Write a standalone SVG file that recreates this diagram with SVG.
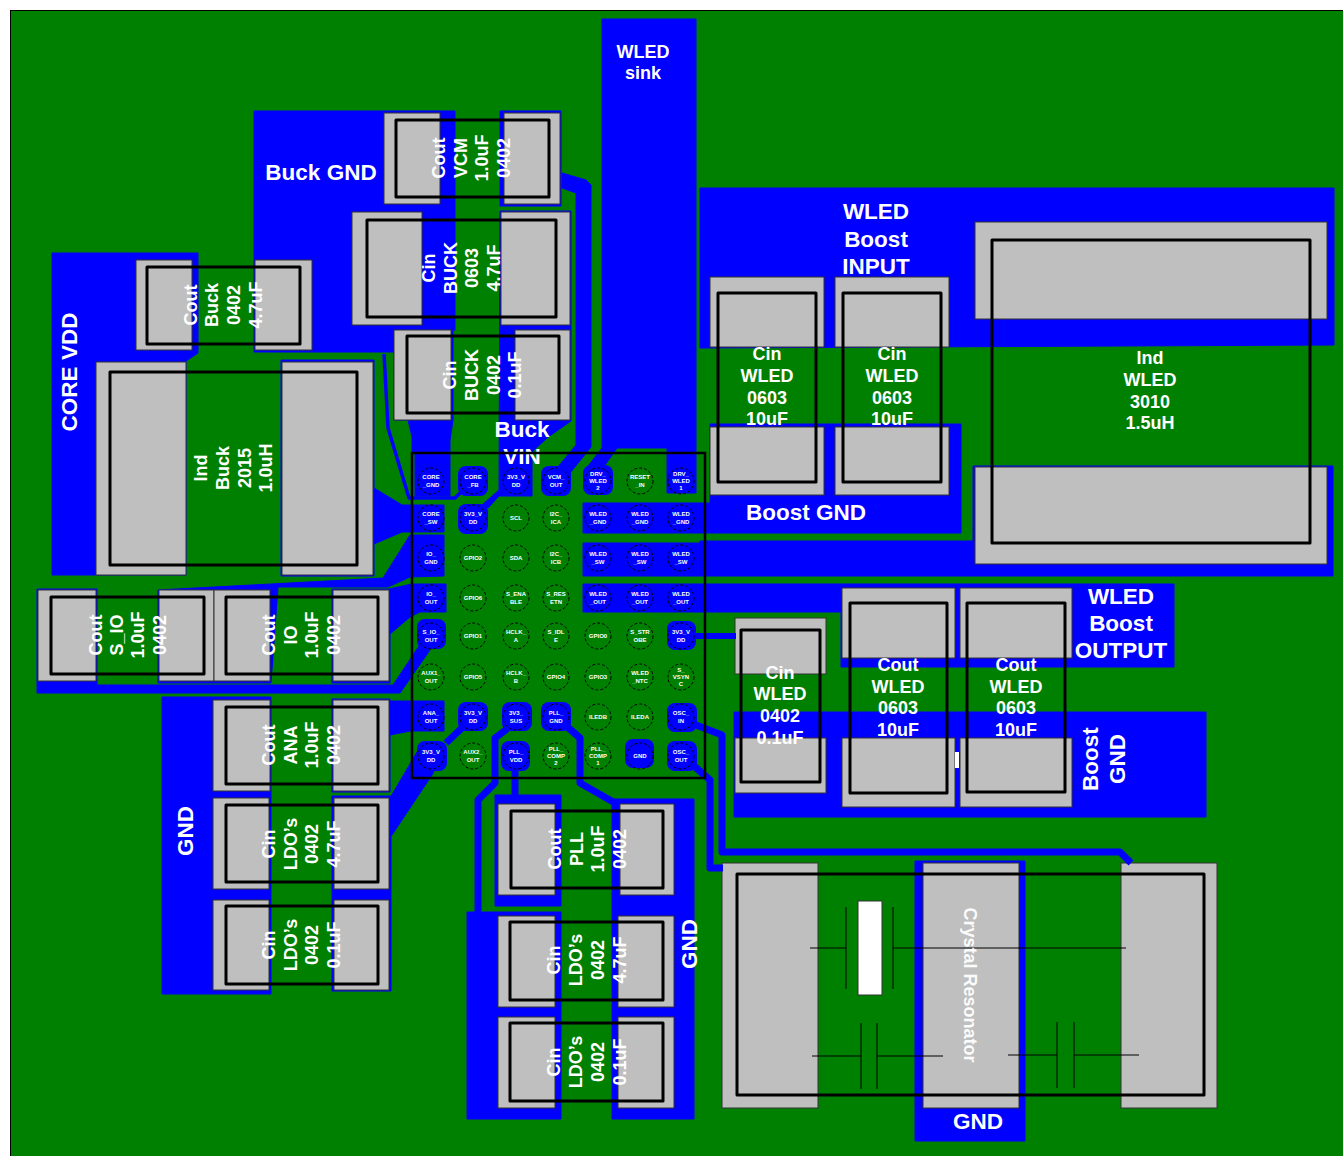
<svg xmlns="http://www.w3.org/2000/svg" width="1343" height="1156" viewBox="0 0 1343 1156">
<style>
.cu{fill:#0000ff;stroke:#0000ff;stroke-width:1;stroke-linejoin:round}
.tr{fill:none;stroke:#0000ff;stroke-linejoin:round}
.pd{fill:#bfbfbf;stroke:#333;stroke-width:1}
.ol{fill:none;stroke:#000;stroke-width:3;stroke-linejoin:round}
.t{font-family:"Liberation Sans",Arial,sans-serif;font-weight:700;fill:#fff;font-size:18px;text-anchor:middle}
.b{font-size:22.5px}
.pin{fill:none;stroke:#000;stroke-width:1;stroke-dasharray:3 2}
.pt{font-family:"Liberation Sans",Arial,sans-serif;font-weight:700;fill:#fff;font-size:6px;text-anchor:middle}
.s{stroke:#000;stroke-width:1;fill:none}
</style>
<rect x="10.5" y="10.5" width="1340" height="1150" fill="#008000" stroke="#000" stroke-width="1"/>
<g id="copper">
<path class="cu" d="M602 19H696V493H667V448H617L603 468L585 470L602 448Z"/>
<path class="cu" d="M254 111H455V330H453V420L450 440V496H415V453H412V437L408 420H394V352H254Z"/>
<rect class="cu" x="500" y="111" width="61" height="95"/>
<path class="cu" d="M500 211H571V421L548 437L532 452V496H499V490L482 505L488 508L499 496L500 211Z"/>
<path class="cu" d="M52 253H198V353L186 361V575H52Z"/>
<path class="cu" d="M281 360H374V488L402 505H444V532H402L374 544V576H281Z"/>
<path class="cu" d="M700 188H1334V345L700 348Z"/>
<path class="cu" d="M710 424H961V533H583V503H710Z"/>
<path class="cu" d="M583 543H700V541H973V466H1333V576H583Z"/>
<path class="cu" d="M583 584H1174V667H841V612H583Z"/>
<rect class="cu" x="734" y="712" width="472" height="105"/>
<path class="cu" d="M444 535V576L410 577L388 587H278L271 683H158V590L383 578L410 535Z"/>
<path class="cu" d="M332 589H389L412 584H446V612H420L410 617L390 634V683H332Z"/>
<path class="cu" d="M37 589H97V685H393L423 640L430 650L400 693H37Z"/>
<path class="cu" d="M332 699H390V701H444V731H410L390 735V792H332Z"/>
<rect class="cu" x="162" y="697" width="109" height="297"/>
<rect class="cu" x="332" y="796" width="59" height="195"/>
<rect class="cu" x="495" y="795" width="66" height="111"/>
<rect class="cu" x="467" y="912" width="94" height="207"/>
<rect class="cu" x="612" y="799" width="82" height="320"/>
<rect class="cu" x="915" y="861" width="110" height="280"/>
<path class="cu" d="M390 798L417 752L421 747L440 760L432 775L392 835H390Z"/>
</g>
<g id="cout-vcm"><rect class="pd" x="384" y="113" width="56" height="91"/><rect class="pd" x="504" y="113" width="56" height="91"/><rect class="ol" x="396" y="120" width="153" height="77"/>
<text class="t" transform="translate(445,158) rotate(-90)">Cout</text><text class="t" transform="translate(467,158) rotate(-90)">VCM</text><text class="t" transform="translate(488,158) rotate(-90)">1.0uF</text><text class="t" transform="translate(510,158) rotate(-90)">0402</text></g>
<g id="cin-buck-0603"><rect class="pd" x="352" y="212" width="70" height="113"/><rect class="pd" x="501" y="212" width="69" height="113"/><rect class="ol" x="367" y="220" width="189" height="97"/>
<text class="t" transform="translate(435,268) rotate(-90)">Cin</text><text class="t" transform="translate(457,268) rotate(-90)">BUCK</text><text class="t" transform="translate(478,268) rotate(-90)">0603</text><text class="t" transform="translate(500,268) rotate(-90)">4.7uF</text></g>
<g id="cin-buck-0402"><rect class="pd" x="394" y="330" width="57" height="90"/><rect class="pd" x="515" y="330" width="55" height="90"/><rect class="ol" x="407" y="336" width="152" height="77"/>
<text class="t" transform="translate(456,375) rotate(-90)">Cin</text><text class="t" transform="translate(478,375) rotate(-90)">BUCK</text><text class="t" transform="translate(500,375) rotate(-90)">0402</text><text class="t" transform="translate(521,375) rotate(-90)">0.1uF</text></g>
<g id="cout-buck"><rect class="pd" x="136" y="260" width="56" height="90"/><rect class="pd" x="255" y="260" width="57" height="90"/><rect class="ol" x="147" y="267" width="153" height="77"/>
<text class="t" transform="translate(197,305) rotate(-90)">Cout</text><text class="t" transform="translate(218,305) rotate(-90)">Buck</text><text class="t" transform="translate(240,305) rotate(-90)">0402</text><text class="t" transform="translate(262,305) rotate(-90)">4.7uF</text></g>
<g id="ind-buck"><rect class="pd" x="96" y="362" width="90" height="213"/><rect class="pd" x="282" y="362" width="91" height="213"/><rect class="ol" x="110" y="372" width="247" height="193"/>
<text class="t" transform="translate(207,468) rotate(-90)">Ind</text><text class="t" transform="translate(229,468) rotate(-90)">Buck</text><text class="t" transform="translate(251,468) rotate(-90)">2015</text><text class="t" transform="translate(272,468) rotate(-90)">1.0uH</text></g>
<g id="cout-s-io"><rect class="pd" x="38" y="590" width="58" height="91"/><rect class="pd" x="159" y="590" width="55" height="91"/><rect class="ol" x="51" y="597" width="153" height="77"/>
<text class="t" transform="translate(102,635) rotate(-90)">Cout</text><text class="t" transform="translate(123,635) rotate(-90)">S_IO</text><text class="t" transform="translate(144,635) rotate(-90)">1.0uF</text><text class="t" transform="translate(166,635) rotate(-90)">0402</text></g>
<g id="cout-io"><rect class="pd" x="214" y="590" width="56" height="91"/><rect class="pd" x="333" y="590" width="56" height="91"/><rect class="ol" x="226" y="597" width="152" height="77"/>
<text class="t" transform="translate(275,635) rotate(-90)">Cout</text><text class="t" transform="translate(297,635) rotate(-90)">IO</text><text class="t" transform="translate(318,635) rotate(-90)">1.0uF</text><text class="t" transform="translate(340,635) rotate(-90)">0402</text></g>
<g id="cout-ana"><rect class="pd" x="213" y="700" width="57" height="91"/><rect class="pd" x="333" y="700" width="56" height="91"/><rect class="ol" x="226" y="707" width="152" height="77"/>
<text class="t" transform="translate(275,745) rotate(-90)">Cout</text><text class="t" transform="translate(297,745) rotate(-90)">ANA</text><text class="t" transform="translate(318,745) rotate(-90)">1.0uF</text><text class="t" transform="translate(340,745) rotate(-90)">0402</text></g>
<g id="cin-ldo-47-left"><rect class="pd" x="213" y="798" width="56" height="91"/><rect class="pd" x="334" y="798" width="55" height="91"/><rect class="ol" x="226" y="805" width="152" height="77"/>
<text class="t" transform="translate(275,844) rotate(-90)">Cin</text><text class="t" transform="translate(297,844) rotate(-90)">LDO’s</text><text class="t" transform="translate(318,844) rotate(-90)">0402</text><text class="t" transform="translate(340,844) rotate(-90)">4.7uF</text></g>
<g id="cin-ldo-01-left"><rect class="pd" x="213" y="900" width="56" height="90"/><rect class="pd" x="334" y="900" width="55" height="90"/><rect class="ol" x="226" y="906" width="152" height="78"/>
<text class="t" transform="translate(275,945) rotate(-90)">Cin</text><text class="t" transform="translate(297,945) rotate(-90)">LDO’s</text><text class="t" transform="translate(318,945) rotate(-90)">0402</text><text class="t" transform="translate(340,945) rotate(-90)">0.1uF</text></g>
<g id="cout-pll"><rect class="pd" x="498" y="804" width="57" height="91"/><rect class="pd" x="620" y="804" width="54" height="91"/><rect class="ol" x="511" y="811" width="152" height="77"/>
<text class="t" transform="translate(561,849) rotate(-90)">Cout</text><text class="t" transform="translate(583,849) rotate(-90)">PLL</text><text class="t" transform="translate(604,849) rotate(-90)">1.0uF</text><text class="t" transform="translate(626,849) rotate(-90)">0402</text></g>
<g id="cin-ldo-47-right"><rect class="pd" x="498" y="916" width="57" height="91"/><rect class="pd" x="618" y="916" width="56" height="91"/><rect class="ol" x="510" y="922" width="153" height="78"/>
<text class="t" transform="translate(560,960) rotate(-90)">Cin</text><text class="t" transform="translate(582,960) rotate(-90)">LDO’s</text><text class="t" transform="translate(604,960) rotate(-90)">0402</text><text class="t" transform="translate(626,960) rotate(-90)">4.7uF</text></g>
<g id="cin-ldo-01-right"><rect class="pd" x="498" y="1017" width="57" height="91"/><rect class="pd" x="618" y="1017" width="56" height="91"/><rect class="ol" x="510" y="1023" width="153" height="78"/>
<text class="t" transform="translate(560,1062) rotate(-90)">Cin</text><text class="t" transform="translate(582,1062) rotate(-90)">LDO’s</text><text class="t" transform="translate(604,1062) rotate(-90)">0402</text><text class="t" transform="translate(626,1062) rotate(-90)">0.1uF</text></g>
<g id="cin-wled-1"><rect class="pd" x="710" y="277" width="114" height="70"/><rect class="pd" x="710" y="427" width="114" height="68"/><rect class="ol" x="718" y="293" width="98" height="189"/>
<text class="t" x="767" y="360">Cin</text><text class="t" x="767" y="382">WLED</text><text class="t" x="767" y="404">0603</text><text class="t" x="767" y="425">10uF</text></g>
<g id="cin-wled-2"><rect class="pd" x="835" y="277" width="114" height="70"/><rect class="pd" x="835" y="427" width="114" height="68"/><rect class="ol" x="843" y="293" width="98" height="189"/>
<text class="t" x="892" y="360">Cin</text><text class="t" x="892" y="382">WLED</text><text class="t" x="892" y="404">0603</text><text class="t" x="892" y="425">10uF</text></g>
<g id="ind-wled"><rect class="pd" x="975" y="222" width="352" height="97"/><rect class="pd" x="975" y="467" width="352" height="97"/><rect class="ol" x="992" y="240" width="318" height="303"/>
<text class="t" x="1150" y="364">Ind</text><text class="t" x="1150" y="386">WLED</text><text class="t" x="1150" y="408">3010</text><text class="t" x="1150" y="429">1.5uH</text></g>
<g id="cin-wled-0402"><rect class="pd" x="735" y="618" width="91" height="56"/><rect class="pd" x="735" y="738" width="91" height="55"/><rect class="ol" x="741" y="630" width="79" height="152"/>
<text class="t" x="780" y="679">Cin</text><text class="t" x="780" y="700">WLED</text><text class="t" x="780" y="722">0402</text><text class="t" x="780" y="744">0.1uF</text></g>
<g id="cout-wled-1"><rect class="pd" x="842" y="588" width="113" height="70"/><rect class="pd" x="842" y="738" width="113" height="69"/><rect class="ol" x="850" y="603" width="97" height="190"/>
<text class="t" x="898" y="671">Cout</text><text class="t" x="898" y="693">WLED</text><text class="t" x="898" y="714">0603</text><text class="t" x="898" y="736">10uF</text></g>
<g id="cout-wled-2"><rect class="pd" x="960" y="588" width="112" height="70"/><rect class="pd" x="960" y="738" width="112" height="69"/><rect class="ol" x="967" y="603" width="98" height="189"/>
<text class="t" x="1016" y="671">Cout</text><text class="t" x="1016" y="693">WLED</text><text class="t" x="1016" y="714">0603</text><text class="t" x="1016" y="736">10uF</text></g>
<rect x="955" y="752" width="4" height="16" fill="#fff"/>
<g id="crystal"><rect class="pd" x="722" y="863" width="96" height="245"/><rect class="pd" x="923" y="863" width="96" height="245"/><rect class="pd" x="1121" y="863" width="96" height="245"/>
<rect x="858" y="901" width="24" height="94" fill="#fff" stroke="#333"/>
<path class="s" d="M810 948H846M846 907V989M893 907V989M893 948H1126M812 1056H861M861 1023V1089M877 1023V1089M877 1056H943M1008 1055H1057M1057 1022V1088M1074 1022V1088M1074 1055H1139"/>
<rect class="ol" x="737" y="874" width="467" height="221"/>
<text class="t" style="font-size:18px;opacity:.95" transform="translate(964,985) rotate(90)">Crystal Resonator</text></g>
<g id="labels">
<text class="t" x="643" y="58">WLED</text><text class="t" x="643" y="79">sink</text>
<text class="t b" x="321" y="180">Buck GND</text>
<text class="t b" x="876" y="219">WLED</text><text class="t b" x="876" y="247">Boost</text><text class="t b" x="876" y="274">INPUT</text>
<text class="t b" x="806" y="520">Boost GND</text>
<text class="t b" x="1121" y="604">WLED</text><text class="t b" x="1121" y="631">Boost</text><text class="t b" x="1121" y="658">OUTPUT</text>
<text class="t b" transform="translate(1098,759) rotate(-90)">Boost</text><text class="t b" transform="translate(1125,759) rotate(-90)">GND</text>
<text class="t b" transform="translate(77,372) rotate(-90)">CORE VDD</text>
<text class="t b" transform="translate(193,831) rotate(-90)">GND</text>
<text class="t b" transform="translate(697,944) rotate(-90)">GND</text>
<text class="t b" x="978" y="1129">GND</text>
<text class="t b" x="522" y="437">Buck</text><text class="t b" x="522" y="464">VIN</text>
</g>
<g id="pads" fill="#0000ff">
<rect x="458" y="466" width="30" height="30" rx="8"/><rect x="458" y="504" width="30" height="30" rx="8"/><rect x="541" y="466" width="30" height="30" rx="8"/><rect x="583" y="465" width="30" height="30" rx="8"/>
<rect x="417" y="619" width="29" height="30" rx="8"/><rect x="667" y="621" width="29" height="29" rx="8"/>
<rect x="458" y="702" width="30" height="29" rx="8"/><rect x="502" y="702" width="30" height="29" rx="8"/><rect x="541" y="702" width="30" height="29" rx="8"/><rect x="667" y="703" width="30" height="29" rx="8"/>
<rect x="417" y="741" width="30" height="30" rx="8"/><rect x="501" y="741" width="29" height="30" rx="8"/><rect x="625" y="739" width="29" height="29" rx="8"/><rect x="667" y="741" width="30" height="30" rx="8"/>
</g>
<g id="pins">
<g id="p11"><circle class="pin" cx="431" cy="481" r="13"/><text class="pt"><tspan x="431" y="479">CORE</tspan><tspan x="431" y="486.5">_GND</tspan></text></g>
<g id="p12"><circle class="pin" cx="473" cy="481" r="13"/><text class="pt"><tspan x="473" y="479">CORE</tspan><tspan x="473" y="486.5">_FB</tspan></text></g>
<g id="p13"><circle class="pin" cx="516" cy="481" r="13"/><text class="pt"><tspan x="516" y="479">3V3_V</tspan><tspan x="516" y="486.5">DD</tspan></text></g>
<g id="p14"><circle class="pin" cx="556" cy="481" r="13"/><text class="pt"><tspan x="556" y="479">VCM_</tspan><tspan x="556" y="486.5">OUT</tspan></text></g>
<g id="p15"><circle class="pin" cx="598" cy="481" r="13"/><text class="pt"><tspan x="598" y="475.5">DRV_</tspan><tspan x="598" y="482.7">WLED</tspan><tspan x="598" y="490">2</tspan></text></g>
<g id="p16"><circle class="pin" cx="640" cy="481" r="13"/><text class="pt"><tspan x="640" y="479">RESET</tspan><tspan x="640" y="486.5">_IN</tspan></text></g>
<g id="p17"><circle class="pin" cx="681" cy="481" r="13"/><text class="pt"><tspan x="681" y="475.5">DRV_</tspan><tspan x="681" y="482.7">WLED</tspan><tspan x="681" y="490">1</tspan></text></g>
<g id="p21"><circle class="pin" cx="431" cy="518" r="13"/><text class="pt"><tspan x="431" y="516">CORE</tspan><tspan x="431" y="523.5">_SW</tspan></text></g>
<g id="p22"><circle class="pin" cx="473" cy="518" r="13"/><text class="pt"><tspan x="473" y="516">3V3_V</tspan><tspan x="473" y="523.5">DD</tspan></text></g>
<g id="p23"><circle class="pin" cx="516" cy="518" r="13"/><text class="pt" x="516" y="520">SCL</text></g>
<g id="p24"><circle class="pin" cx="556" cy="518" r="13"/><text class="pt"><tspan x="556" y="516">I2C_</tspan><tspan x="556" y="523.5">ICA</tspan></text></g>
<g id="p25"><circle class="pin" cx="598" cy="518" r="13"/><text class="pt"><tspan x="598" y="516">WLED</tspan><tspan x="598" y="523.5">_GND</tspan></text></g>
<g id="p26"><circle class="pin" cx="640" cy="518" r="13"/><text class="pt"><tspan x="640" y="516">WLED</tspan><tspan x="640" y="523.5">_GND</tspan></text></g>
<g id="p27"><circle class="pin" cx="681" cy="518" r="13"/><text class="pt"><tspan x="681" y="516">WLED</tspan><tspan x="681" y="523.5">_GND</tspan></text></g>
<g id="p31"><circle class="pin" cx="431" cy="558" r="13"/><text class="pt"><tspan x="431" y="556">IO_</tspan><tspan x="431" y="563.5">GND</tspan></text></g>
<g id="p32"><circle class="pin" cx="473" cy="558" r="13"/><text class="pt" x="473" y="560">GPIO2</text></g>
<g id="p33"><circle class="pin" cx="516" cy="558" r="13"/><text class="pt" x="516" y="560">SDA</text></g>
<g id="p34"><circle class="pin" cx="556" cy="558" r="13"/><text class="pt"><tspan x="556" y="556">I2C_</tspan><tspan x="556" y="563.5">ICB</tspan></text></g>
<g id="p35"><circle class="pin" cx="598" cy="558" r="13"/><text class="pt"><tspan x="598" y="556">WLED</tspan><tspan x="598" y="563.5">_SW</tspan></text></g>
<g id="p36"><circle class="pin" cx="640" cy="558" r="13"/><text class="pt"><tspan x="640" y="556">WLED</tspan><tspan x="640" y="563.5">_SW</tspan></text></g>
<g id="p37"><circle class="pin" cx="681" cy="558" r="13"/><text class="pt"><tspan x="681" y="556">WLED</tspan><tspan x="681" y="563.5">_SW</tspan></text></g>
<g id="p41"><circle class="pin" cx="431" cy="598" r="13"/><text class="pt"><tspan x="431" y="596">IO_</tspan><tspan x="431" y="603.5">OUT</tspan></text></g>
<g id="p42"><circle class="pin" cx="473" cy="598" r="13"/><text class="pt" x="473" y="600">GPIO6</text></g>
<g id="p43"><circle class="pin" cx="516" cy="598" r="13"/><text class="pt"><tspan x="516" y="596">S_ENA</tspan><tspan x="516" y="603.5">BLE</tspan></text></g>
<g id="p44"><circle class="pin" cx="556" cy="598" r="13"/><text class="pt"><tspan x="556" y="596">S_RES</tspan><tspan x="556" y="603.5">ETN</tspan></text></g>
<g id="p45"><circle class="pin" cx="598" cy="598" r="13"/><text class="pt"><tspan x="598" y="596">WLED</tspan><tspan x="598" y="603.5">_OUT</tspan></text></g>
<g id="p46"><circle class="pin" cx="640" cy="598" r="13"/><text class="pt"><tspan x="640" y="596">WLED</tspan><tspan x="640" y="603.5">_OUT</tspan></text></g>
<g id="p47"><circle class="pin" cx="681" cy="598" r="13"/><text class="pt"><tspan x="681" y="596">WLED</tspan><tspan x="681" y="603.5">_OUT</tspan></text></g>
<g id="p51"><circle class="pin" cx="431" cy="636" r="13"/><text class="pt"><tspan x="431" y="634">S_IO_</tspan><tspan x="431" y="641.5">OUT</tspan></text></g>
<g id="p52"><circle class="pin" cx="473" cy="636" r="13"/><text class="pt" x="473" y="638">GPIO1</text></g>
<g id="p53"><circle class="pin" cx="516" cy="636" r="13"/><text class="pt"><tspan x="516" y="634">HCLK_</tspan><tspan x="516" y="641.5">A</tspan></text></g>
<g id="p54"><circle class="pin" cx="556" cy="636" r="13"/><text class="pt"><tspan x="556" y="634">S_IDL</tspan><tspan x="556" y="641.5">E</tspan></text></g>
<g id="p55"><circle class="pin" cx="598" cy="636" r="13"/><text class="pt" x="598" y="638">GPIO0</text></g>
<g id="p56"><circle class="pin" cx="640" cy="636" r="13"/><text class="pt"><tspan x="640" y="634">S_STR</tspan><tspan x="640" y="641.5">OBE</tspan></text></g>
<g id="p57"><circle class="pin" cx="681" cy="636" r="13"/><text class="pt"><tspan x="681" y="634">3V3_V</tspan><tspan x="681" y="641.5">DD</tspan></text></g>
<g id="p61"><circle class="pin" cx="431" cy="677" r="13"/><text class="pt"><tspan x="431" y="675">AUX1_</tspan><tspan x="431" y="682.5">OUT</tspan></text></g>
<g id="p62"><circle class="pin" cx="473" cy="677" r="13"/><text class="pt" x="473" y="679">GPIO5</text></g>
<g id="p63"><circle class="pin" cx="516" cy="677" r="13"/><text class="pt"><tspan x="516" y="675">HCLK_</tspan><tspan x="516" y="682.5">B</tspan></text></g>
<g id="p64"><circle class="pin" cx="556" cy="677" r="13"/><text class="pt" x="556" y="679">GPIO4</text></g>
<g id="p65"><circle class="pin" cx="598" cy="677" r="13"/><text class="pt" x="598" y="679">GPIO3</text></g>
<g id="p66"><circle class="pin" cx="640" cy="677" r="13"/><text class="pt"><tspan x="640" y="675">WLED</tspan><tspan x="640" y="682.5">_NTC</tspan></text></g>
<g id="p67"><circle class="pin" cx="681" cy="677" r="13"/><text class="pt"><tspan x="681" y="671.5">S_</tspan><tspan x="681" y="678.7">VSYN</tspan><tspan x="681" y="686">C</tspan></text></g>
<g id="p71"><circle class="pin" cx="431" cy="717" r="13"/><text class="pt"><tspan x="431" y="715">ANA_</tspan><tspan x="431" y="722.5">OUT</tspan></text></g>
<g id="p72"><circle class="pin" cx="473" cy="717" r="13"/><text class="pt"><tspan x="473" y="715">3V3_V</tspan><tspan x="473" y="722.5">DD</tspan></text></g>
<g id="p73"><circle class="pin" cx="516" cy="717" r="13"/><text class="pt"><tspan x="516" y="715">3V3_</tspan><tspan x="516" y="722.5">SUS</tspan></text></g>
<g id="p74"><circle class="pin" cx="556" cy="717" r="13"/><text class="pt"><tspan x="556" y="715">PLL_</tspan><tspan x="556" y="722.5">GND</tspan></text></g>
<g id="p75"><circle class="pin" cx="598" cy="717" r="13"/><text class="pt" x="598" y="719">ILEDB</text></g>
<g id="p76"><circle class="pin" cx="640" cy="717" r="13"/><text class="pt" x="640" y="719">ILEDA</text></g>
<g id="p77"><circle class="pin" cx="681" cy="717" r="13"/><text class="pt"><tspan x="681" y="715">OSC_</tspan><tspan x="681" y="722.5">IN</tspan></text></g>
<g id="p81"><circle class="pin" cx="431" cy="756" r="13"/><text class="pt"><tspan x="431" y="754">3V3_V</tspan><tspan x="431" y="761.5">DD</tspan></text></g>
<g id="p82"><circle class="pin" cx="473" cy="756" r="13"/><text class="pt"><tspan x="473" y="754">AUX2_</tspan><tspan x="473" y="761.5">OUT</tspan></text></g>
<g id="p83"><circle class="pin" cx="516" cy="756" r="13"/><text class="pt"><tspan x="516" y="754">PLL_</tspan><tspan x="516" y="761.5">VDD</tspan></text></g>
<g id="p84"><circle class="pin" cx="556" cy="756" r="13"/><text class="pt"><tspan x="556" y="750.5">PLL_</tspan><tspan x="556" y="757.7">COMP</tspan><tspan x="556" y="765">2</tspan></text></g>
<g id="p85"><circle class="pin" cx="598" cy="756" r="13"/><text class="pt"><tspan x="598" y="750.5">PLL_</tspan><tspan x="598" y="757.7">COMP</tspan><tspan x="598" y="765">1</tspan></text></g>
<g id="p86"><circle class="pin" cx="640" cy="756" r="13"/><text class="pt" x="640" y="758">GND</text></g>
<g id="p87"><circle class="pin" cx="681" cy="756" r="13"/><text class="pt"><tspan x="681" y="754">OSC_</tspan><tspan x="681" y="761.5">OUT</tspan></text></g>
</g>
<g id="connectors">
<path class="cu" d="M562 173L586 180L591 185V447L570 473L557 468L576 445V193L562 188Z"/>
<path class="tr" stroke-width="3.5" d="M384 354L388 428L409 498H455L462 491"/>
<path class="tr" stroke-width="7" d="M464 726L446 743"/>
<path class="tr" stroke-width="7" d="M507 729L495 738V783L478 800V915"/>
<path class="tr" stroke-width="7" d="M515 770V796"/>
<path class="tr" stroke-width="7" d="M564 724L580 738V783L615 803"/>
<path class="tr" stroke-width="6" d="M696 636H736"/>
<path class="tr" stroke-width="7" d="M696 725L722 735V852H1120L1131 863"/>
<path class="tr" stroke-width="7" d="M694 766L710 780V868H723"/>
</g>
<rect id="qfn" x="412" y="453" width="293" height="325" fill="none" stroke="#000" stroke-width="2.5"/>
</svg>
